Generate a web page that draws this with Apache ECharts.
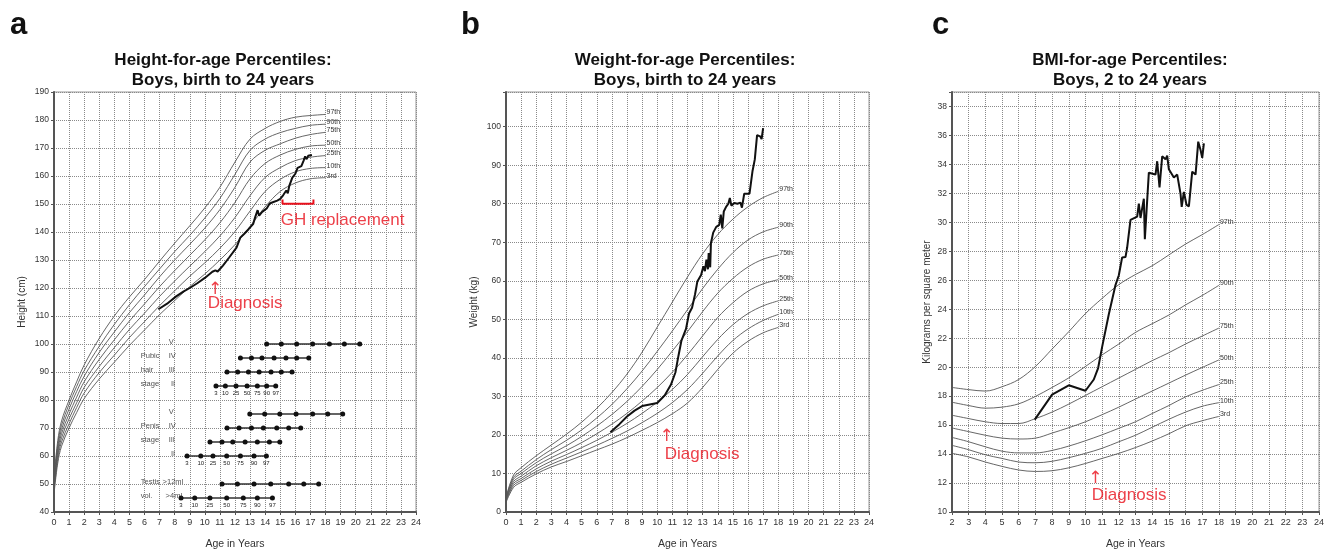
<!DOCTYPE html>
<html><head><meta charset="utf-8">
<script src="https://cdn.jsdelivr.net/npm/echarts@6/dist/echarts.min.js"></script>
<style>html,body{margin:0;padding:0;background:#fff;overflow:hidden;width:1333px;height:555px}#c{width:1333px;height:555px;position:absolute;left:0;top:0}</style>
</head><body><div id="c"></div>
<script>
// ---------- DATA ----------
const pctNames = ['3rd','10th','25th','50th','75th','90th','97th'];
const pctShort = ['3','10','25','50','75','90','97'];

// Height-for-age (cm)
const heightAges = [0,0.25,0.5,1,1.5,2,3,4,5,6,7,8,9,10,11,12,13,14,15,16,17,18];
const height3  = [46.5,57.5,63.5,70.0,75.5,80.5,87.5,93.5,99.5,105.0,110.5,115.5,120.5,125.0,130.0,135.5,142.0,149.0,154.5,157.5,159.0,159.4];
const height10 = [47.5,58.8,65.0,71.5,77.3,82.5,89.8,96.0,102.3,108.0,113.7,119.0,124.2,129.0,134.2,140.2,147.5,154.5,158.8,161.5,162.7,163.0];
const height25 = [48.3,60.2,66.5,73.3,79.0,84.5,92.0,98.7,105.2,111.0,117.0,122.5,127.8,133.0,138.6,145.2,153.0,159.5,163.0,165.5,166.7,167.3];
const height50 = [49.2,61.5,68.0,75.0,81.0,86.5,94.5,101.5,108.2,114.3,120.5,126.2,131.7,137.2,143.3,150.6,159.0,164.5,167.5,169.5,170.7,171.0];
const height75 = [50.2,62.8,69.5,76.8,83.0,88.5,97.0,104.3,111.2,117.5,124.0,130.0,135.6,141.4,148.0,156.0,165.0,169.2,171.5,173.5,174.8,175.6];
const height90 = [51.2,64.2,71.0,78.5,84.8,90.5,99.2,107.0,114.0,120.5,126.8,133.0,138.8,145.0,152.0,160.6,169.2,173.2,175.5,177.0,178.1,178.5];
const height97 = [52.2,65.5,72.5,80.0,86.5,92.5,102.0,110.0,116.8,123.0,129.6,136.0,142.2,148.6,156.0,165.0,173.2,177.0,179.5,181.0,181.6,182.0];

const patientHeight = [[6.92,112.4],[7.5,114.4],[8.1,117.0],[8.6,118.8],[9.0,120.0],[9.5,121.7],[10.0,123.6],[10.5,125.8],[10.7,126.3],[10.85,125.9],[11.2,128.0],[11.6,130.8],[12.1,134.4],[12.35,138.0],[12.6,139.3],[12.9,141.0],[13.2,142.8],[13.35,145.5],[13.5,147.8],[13.6,145.8],[13.8,147.2],[14.1,148.4],[14.3,150.2],[14.55,150.7],[14.8,151.2],[15.0,151.8],[15.2,153.2],[15.4,154.8],[15.5,153.8],[15.6,156.5],[15.8,159.4],[16.0,160.8],[16.15,162.9],[16.4,163.5],[16.55,165.5],[16.65,167.0],[16.75,166.0],[16.85,167.2],[17.1,167.5]];

// Pubertal staging rows (row level in cm, ages of 3..97 percentiles)
const stageRowLevel = [100,95,90,85,75,70,65,60,50,45];
const stageRowAges = [
  [14.1,15.07,16.09,17.15,18.26,19.25,20.27],
  [12.36,13.09,13.79,14.59,15.38,16.09,16.89],
  [11.47,12.18,12.89,13.6,14.39,15.07,15.78],
  [10.74,11.36,12.07,12.8,13.48,14.1,14.7],
  [12.98,13.97,14.97,16.05,17.15,18.15,19.14],
  [11.47,12.27,13.09,13.88,14.77,15.56,16.36],
  [10.34,11.14,11.85,12.67,13.48,14.28,14.97],
  [8.82,9.73,10.54,11.45,12.36,13.26,14.08],
  [11.14,12.16,13.26,14.37,15.56,16.56,17.55],
  [8.42,9.33,10.34,11.45,12.55,13.48,14.48]
];
const stageRowShowPct = [false,false,false,true,false,false,false,true,false,true];
const stageTexts = ['V','Pubic','IV','hair','III','stage','II','V','Penis','IV','stage','III','II','Testis','>12ml','vol.','>4ml'];
const stageTextX = [7.6,5.75,7.6,5.75,7.6,5.75,7.75,7.6,5.75,7.6,5.75,7.6,7.75,5.75,7.2,5.75,7.4];
const stageTextY = [100.8,95.8,95.8,90.8,90.8,85.8,85.8,75.8,70.8,70.8,65.8,65.8,60.8,50.8,50.8,45.8,45.8];

const ghBracket = [[15.15,151.6],[15.15,150.1],[17.2,150.1],[17.2,151.6]];

// Weight-for-age (kg)
const weightAges = [0,0.5,1,2,3,4,5,6,7,8,9,10,11,12,13,14,15,16,17,18];
const weight3  = [2.5,6.4,7.7,9.9,11.7,13.1,14.6,16.1,17.6,19.3,21.2,23.2,25.5,28.3,32.3,37.0,41.2,44.3,46.5,47.9];
const weight10 = [2.8,6.9,8.2,10.5,12.4,14.0,15.6,17.3,19.1,21.0,23.2,25.6,28.4,31.8,36.0,40.5,44.5,47.5,49.7,51.3];
const weight25 = [3.0,7.4,8.7,11.2,13.2,14.9,16.7,18.6,20.7,23.0,25.6,28.5,31.8,35.7,40.3,44.8,48.6,51.5,53.5,54.8];
const weight50 = [3.2,7.9,9.3,12.0,14.1,16.0,18.0,20.3,22.8,25.6,28.8,32.3,36.3,40.8,45.7,50.5,54.3,57.3,59.2,60.3];
const weight75 = [3.4,8.5,10.0,12.8,15.1,17.2,19.6,22.3,25.3,28.7,32.6,37.0,41.8,46.8,52.0,56.8,60.6,63.6,65.6,66.7];
const weight90 = [3.6,9.0,10.6,13.6,16.2,18.6,21.3,24.4,27.9,32.0,36.6,41.7,47.0,52.5,58.0,63.0,67.3,70.6,72.7,73.9];
const weight97 = [3.8,9.6,11.5,14.6,17.4,20.2,23.3,26.9,31.0,35.8,41.5,48.0,54.5,61.0,67.0,72.0,76.0,79.2,81.6,83.2];

const patientWeight = [[6.9,20.7],[7.5,22.8],[8.0,24.8],[8.5,26.3],[9.0,27.5],[9.5,27.9],[10.0,28.3],[10.5,30.3],[10.9,33.0],[11.2,36.2],[11.4,40.5],[11.6,44.5],[11.9,47.5],[12.1,51.5],[12.3,53.0],[12.5,56.5],[12.65,59.8],[12.9,61.5],[13.05,63.8],[13.15,62.5],[13.25,65.5],[13.35,63.0],[13.4,67.2],[13.5,63.5],[13.55,69.8],[13.7,72.5],[13.9,74.0],[14.1,74.5],[14.2,77.2],[14.3,73.6],[14.4,78.0],[14.55,79.2],[14.7,80.0],[14.8,81.5],[14.9,79.5],[15.1,80.2],[15.3,80.0],[15.5,80.3],[15.6,79.0],[15.75,82.6],[16.1,82.6],[16.3,88.5],[16.45,91.5],[16.6,97.8],[16.8,97.5],[16.9,96.8],[17.0,99.6]];

// BMI-for-age (kg/m2)
const bmiAges = [2,3,4,5,6,7,8,9,10,11,12,13,14,15,16,17,18];
const bmi3  = [14.05,13.8,13.45,13.15,12.9,12.8,12.85,13.05,13.35,13.7,14.05,14.45,14.9,15.4,15.95,16.3,16.6];
const bmi10 = [14.6,14.3,13.95,13.7,13.45,13.4,13.5,13.75,14.05,14.4,14.85,15.3,15.85,16.4,16.9,17.3,17.55];
const bmi25 = [15.15,14.85,14.5,14.2,14.08,14.08,14.25,14.55,14.92,15.33,15.78,16.23,16.8,17.35,17.95,18.4,18.8];
const bmi50 = [15.8,15.55,15.3,15.1,15.04,15.1,15.45,15.82,16.23,16.72,17.24,17.8,18.35,18.9,19.45,19.98,20.5];
const bmi75 = [16.68,16.45,16.23,16.11,16.11,16.45,16.9,17.45,18.05,18.65,19.25,19.85,20.45,21.0,21.6,22.15,22.7];
const bmi90 = [17.58,17.35,17.17,17.24,17.47,17.98,18.6,19.26,20.05,20.85,21.6,22.4,23.0,23.6,24.3,24.95,25.65];
const bmi97 = [18.6,18.45,18.35,18.65,19.15,20.05,21.25,22.45,23.7,24.75,25.7,26.4,27.0,27.75,28.5,29.15,29.85];

const patientBmi = [[6.96,16.38],[8.0,18.1],[9.0,18.75],[10.0,18.37],[10.5,19.15],[10.76,19.94],[11.0,21.4],[11.4,23.65],[11.8,25.67],[12.0,26.35],[12.2,27.58],[12.4,27.6],[12.5,28.26],[12.7,30.17],[13.1,30.4],[13.2,31.3],[13.3,30.3],[13.5,31.63],[13.56,28.83],[13.8,33.43],[14.2,33.3],[14.3,34.22],[14.44,32.42],[14.6,34.56],[14.8,34.35],[14.9,34.6],[15.0,33.66],[15.3,33.1],[15.5,33.3],[15.7,31.97],[15.77,31.07],[15.9,32.1],[16.06,31.2],[16.2,31.1],[16.4,33.5],[16.6,33.3],[16.76,35.57],[16.9,35.0],[17.0,34.45],[17.1,35.45]];

// Annotations
const annoTexts = ['Diagnosis','GH replacement','Diagnosis','Diagnosis'];
const annoX = [10.2,15.03,10.5,10.38];
const annoY = [115.9,145.5,16.0,11.4];
const annoGrid = [0,0,1,2];
const arrowX = [10.68,10.62,10.6];
const arrowY = [121.4,20.8,12.65];
const arrowGrid = [0,1,2];

// ---------- CHART ----------
const FONT = 'Liberation Sans, Arial, sans-serif';
const RED = '#e8101c';
const chart = echarts.init(document.getElementById('c'), null, {renderer:'canvas', width:1333, height:555});

function curve(g, ages, vals, name){
  return {type:'line', xAxisIndex:g, yAxisIndex:g, data: ages.map((a,i)=>[a, vals[i]]),
    smooth:0.35, symbol:'none', silent:true, z:2,
    lineStyle:{color:'#555', width:0.9},
    endLabel:{show:true, formatter:name, fontSize:7, color:'#333', distance:1, offset:[0,-2]}};
}
function patient(g, data){
  return {type:'line', xAxisIndex:g, yAxisIndex:g, data:data, symbol:'none', silent:true, z:5,
    lineStyle:{color:'#111', width:2}};
}

const series = [];
const hv = [height3,height10,height25,height50,height75,height90,height97];
const wv = [weight3,weight10,weight25,weight50,weight75,weight90,weight97];
const bv = [bmi3,bmi10,bmi25,bmi50,bmi75,bmi90,bmi97];
pctNames.forEach((n,i)=>{
  series.push(curve(0, heightAges, hv[i], n));
  series.push(curve(1, weightAges, wv[i], n));
  series.push(curve(2, bmiAges, bv[i], n));
});
series.push(patient(0, patientHeight));
series.push(patient(1, patientWeight));
series.push(patient(2, patientBmi));

stageRowLevel.forEach((lv, r)=>{
  series.push({type:'line', xAxisIndex:0, yAxisIndex:0, silent:true, z:4,
    data: stageRowAges[r].map(a=>[a, lv]),
    symbol:'circle', symbolSize:5, showAllSymbol:true,
    itemStyle:{color:'#111'}, lineStyle:{color:'#333', width:1.6},
    label: stageRowShowPct[r] ? {show:true, position:'bottom', distance:2, fontSize:6, color:'#222',
      formatter: p=>pctShort[p.dataIndex]} : {show:false}});
});
series.push({type:'scatter', xAxisIndex:0, yAxisIndex:0, silent:true, z:4, symbolSize:0,
  data: stageTexts.map((t,i)=>({name:t, value:[stageTextX[i], stageTextY[i]]})),
  label:{show:true, position:'right', distance:0, formatter:'{b}', fontSize:7.5, color:'#222'}});

series.push({type:'line', xAxisIndex:0, yAxisIndex:0, silent:true, z:6, data: ghBracket,
  symbol:'none', lineStyle:{color:RED, width:2}});

annoTexts.forEach((t,i)=>{
  series.push({type:'scatter', xAxisIndex:annoGrid[i], yAxisIndex:annoGrid[i], silent:true, z:7, symbolSize:0,
    data:[{name:t, value:[annoX[i], annoY[i]]}],
    label:{show:true, position:'right', distance:0, offset:[0,4], formatter:'{b}', fontSize:17, color:RED}});
});
arrowX.forEach((x,i)=>{
  series.push({type:'scatter', xAxisIndex:arrowGrid[i], yAxisIndex:arrowGrid[i], silent:true, z:7, symbolSize:0,
    data:[{name:'↑', value:[x, arrowY[i]]}],
    label:{show:true, position:'inside', offset:[0,5], formatter:'{b}', fontSize:17, color:RED, fontFamily:'DejaVu Sans'}});
});

function xAx(g, min){
  return {gridIndex:g, type:'value', min:min, max:24, interval:1,
    name:'Age in Years', nameLocation:'middle', nameGap:27, nameTextStyle:{fontSize:10.5, color:'#333'},
    axisLine:{show:true, onZero:false, lineStyle:{color:'#555', width:2}},
    axisTick:{show:true, length:3, lineStyle:{color:'#555'}},
    axisLabel:{interval:0, fontSize:9, color:'#333', margin:6},
    splitLine:{show:true, lineStyle:{color:'#8a8a8a', type:'dotted', width:1}}};
}
function yAx(g, min, max, interval, name, gap, step){
  return {gridIndex:g, type:'value', min:min, max:max, interval:interval,
    name:name, nameLocation:'middle', nameGap:gap, nameTextStyle:{fontSize:10, color:'#333'},
    axisLine:{show:true, onZero:false, lineStyle:{color:'#555', width:2}},
    axisTick:{show:true, length:3, lineStyle:{color:'#555'}},
    axisLabel:{fontSize:8.5, color:'#333', margin:5, formatter: v => (Math.abs(v % step) < 1e-9 ? String(v) : '')},
    splitLine:{show:true, lineStyle:{color:'#8a8a8a', type:'dotted', width:1}}};
}

const gridBase = {show:true, borderColor:'#999', borderWidth:1, containLabel:false};
const titleStyle = {fontSize:17, fontWeight:'bold', color:'#111', lineHeight:20, fontFamily:FONT};
const letterStyle = {fontSize:31, fontWeight:'bold', color:'#111', fontFamily:FONT};
chart.setOption({
  animation:false,
  textStyle:{fontFamily:FONT},
  title:[
    {text:'Height-for-age Percentiles:\nBoys, birth to 24 years', left:218, top:45, textAlign:'center', textStyle:titleStyle},
    {text:'Weight-for-age Percentiles:\nBoys, birth to 24 years', left:680, top:45, textAlign:'center', textStyle:titleStyle},
    {text:'BMI-for-age Percentiles:\nBoys, 2 to 24 years', left:1125, top:45, textAlign:'center', textStyle:titleStyle},
    {text:'a', left:5, top:5, textStyle:letterStyle},
    {text:'b', left:456, top:5, textStyle:letterStyle},
    {text:'c', left:927, top:5, textStyle:letterStyle}
  ],
  grid:[
    Object.assign({left:54, top:92, width:362, height:431}, gridBase),
    Object.assign({left:506, top:92, width:363, height:431}, gridBase),
    Object.assign({left:952, top:92, width:367, height:430}, gridBase)
  ],
  xAxis:[xAx(0,0), xAx(1,0), xAx(2,2)],
  yAxis:[
    yAx(0,40,190,10,'Height (cm)',27,10),
    yAx(1,0,109,10,'Weight (kg)',27,10),
    yAx(2,10,39,2,'Kilograms per square meter',20,2)
  ],
  series: series
});
</script></body></html>
